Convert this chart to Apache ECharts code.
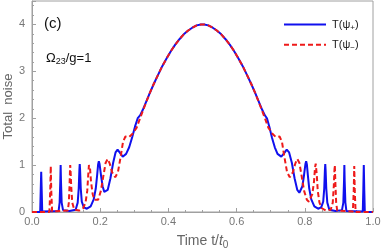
<!DOCTYPE html>
<html>
<head>
<meta charset="utf-8">
<script src="https://cdn.jsdelivr.net/npm/echarts@6/dist/echarts.min.js"></script>
<style>html,body{margin:0;padding:0;background:#fff}#c{width:382px;height:250px}</style>
</head>
<body>
<div id="c"></div>
<script>
const seriesNames = ['T(ψ+)', 'T(ψ−)'];
const xTicks = [0, 0.2, 0.4, 0.6, 0.8, 1.0];
const yTicks = [0, 1, 2, 3, 4];

const bluePlus = [
  [0,0],[0.024,0],[0.0255,0.45],[0.027,0.86],[0.0285,0.45],[0.030,0.01],
  [0.078,0.02],[0.081,0.2],[0.083,0.65],[0.084,1.0],[0.085,0.65],[0.087,0.2],[0.091,0.04],
  [0.11,0.02],[0.128,0.05],[0.134,0.2],[0.137,0.5],[0.139,0.9],[0.140,1.02],[0.141,0.9],[0.143,0.5],[0.146,0.22],[0.152,0.1],[0.161,0.07],
  [0.172,0.12],[0.181,0.27],[0.187,0.5],[0.191,0.78],[0.194,1.02],[0.196,1.08],[0.198,1.03],[0.202,0.8],[0.207,0.55],[0.212,0.43],[0.216,0.41],
  [0.222,0.47],[0.230,0.72],[0.238,1.05],[0.245,1.27],[0.251,1.33],[0.258,1.26],[0.266,1.18],[0.276,1.24],[0.285,1.38],[0.294,1.6],
  [0.302,1.82],[0.310,2.0],[0.317,2.06],[0.325,2.18],
  [0.345,2.53],[0.357,2.73],[0.370,2.93],[0.382,3.11],[0.395,3.28],[0.408,3.44],[0.420,3.57],[0.433,3.69],[0.445,3.79],
  [0.458,3.87],[0.470,3.93],[0.483,3.98],[0.495,4.0],[0.505,4.0],[0.517,3.98],[0.530,3.93],[0.542,3.87],[0.555,3.79],
  [0.567,3.69],[0.580,3.57],[0.592,3.44],[0.605,3.28],[0.618,3.11],[0.630,2.93],[0.643,2.73],[0.655,2.53],
  [0.675,2.18],[0.683,2.06],[0.689,2.0],[0.696,1.82],[0.704,1.58],[0.712,1.38],[0.720,1.24],[0.731,1.18],[0.739,1.25],
  [0.747,1.33],[0.754,1.27],[0.762,1.05],[0.770,0.72],[0.778,0.47],[0.784,0.41],[0.788,0.43],[0.793,0.55],[0.798,0.8],
  [0.802,1.03],[0.804,1.08],[0.806,1.02],[0.809,0.78],[0.813,0.5],[0.819,0.27],[0.828,0.12],[0.839,0.07],
  [0.848,0.1],[0.854,0.22],[0.857,0.5],[0.859,0.9],[0.860,1.02],[0.861,0.9],[0.863,0.5],[0.866,0.2],[0.872,0.05],
  [0.89,0.02],[0.909,0.04],[0.913,0.2],[0.915,0.65],[0.916,1.0],[0.917,0.65],[0.919,0.2],[0.922,0.02],
  [0.970,0.01],[0.9715,0.45],[0.973,1.0],[0.9745,0.45],[0.976,0],[1,0]
];

const redMinus = [
  [0,0],[0.051,0],[0.0535,0.45],[0.055,0.98],[0.0565,0.45],[0.059,0.01],
  [0.105,0.03],[0.108,0.2],[0.110,0.55],[0.1115,0.9],[0.112,1.0],[0.113,0.9],[0.115,0.55],[0.118,0.2],[0.124,0.05],[0.138,0.03],
  [0.150,0.08],[0.157,0.2],[0.162,0.45],[0.165,0.8],[0.167,1.0],[0.168,1.03],[0.170,0.95],[0.173,0.65],[0.178,0.38],[0.183,0.26],
  [0.188,0.22],[0.194,0.26],[0.202,0.45],[0.210,0.8],[0.216,1.05],[0.222,1.13],[0.228,1.03],[0.235,0.85],[0.244,0.74],
  [0.252,0.85],[0.260,1.18],[0.267,1.5],[0.274,1.61],[0.285,1.6],[0.295,1.67],[0.307,1.8],[0.318,2.02],[0.330,2.25],
  [0.345,2.53],[0.357,2.73],[0.370,2.93],[0.382,3.11],[0.395,3.28],[0.408,3.44],[0.420,3.57],[0.433,3.69],[0.445,3.79],
  [0.458,3.87],[0.470,3.93],[0.483,3.98],[0.495,4.0],[0.505,4.0],[0.517,3.98],[0.530,3.93],[0.542,3.87],[0.555,3.79],
  [0.567,3.69],[0.580,3.57],[0.592,3.44],[0.605,3.28],[0.618,3.11],[0.630,2.93],[0.643,2.73],[0.655,2.53],
  [0.670,2.25],[0.682,2.02],[0.693,1.8],[0.705,1.67],[0.715,1.6],[0.726,1.61],[0.733,1.5],[0.740,1.18],[0.748,0.85],
  [0.756,0.74],[0.765,0.85],[0.772,1.03],[0.778,1.13],[0.784,1.05],[0.790,0.8],[0.798,0.45],[0.806,0.26],[0.812,0.22],
  [0.817,0.26],[0.822,0.38],[0.827,0.65],[0.830,0.95],[0.832,1.03],[0.833,1.0],[0.835,0.8],[0.838,0.45],[0.843,0.2],
  [0.850,0.08],[0.862,0.03],[0.876,0.05],[0.882,0.2],[0.885,0.55],[0.887,0.9],[0.888,1.0],[0.8885,0.9],[0.890,0.55],
  [0.892,0.2],[0.895,0.03],[0.941,0.01],[0.9435,0.45],[0.945,0.98],[0.9465,0.45],[0.949,0],[1,0]
];

const FONT = 'Liberation Sans';
const chart = echarts.init(document.getElementById('c'), null, {renderer: 'canvas'});
chart.setOption({
  animation: false,
  grid: {left: 32, right: 9, top: 1, bottom: 38, show: true, borderColor: '#a0a0a0', borderWidth: 1,
    containLabel: false, outerBoundsMode: 'none'},
  legend: {
    orient: 'vertical', left: 278, top: 14, itemWidth: 42, itemHeight: 14, itemGap: 7,
    data: seriesNames,
    itemStyle: {opacity: 0},
    formatter: function (n) {
      return n === seriesNames[0] ? '{a|T(ψ}{s|+}{a|)}' : '{a|T(ψ}{s|−}{a|)}';
    },
    textStyle: {
      fontFamily: FONT, color: '#222', padding: [0,0,0,1],
      rich: {a: {fontSize: 11, fontFamily: FONT, color: '#222'}, s: {fontSize: 8, fontFamily: FONT, color: '#222', padding: [7,0,0,0]}}
    }
  },
  xAxis: {
    type: 'value', min: 0, max: 1, interval: 0.2,
    name: '{a|Time t/}{i|t}{s|0}', nameLocation: 'middle', nameGap: 20, nameMoveOverlap: false,
    nameTextStyle: {
      rich: {
        a: {fontSize: 14, fontFamily: FONT, color: '#666'},
        i: {fontSize: 14, fontFamily: FONT, fontStyle: 'italic', color: '#666'},
        s: {fontSize: 10, fontFamily: FONT, color: '#666', padding: [8,0,0,0]}
      }
    },
    axisLine: {lineStyle: {color: '#a0a0a0', width: 1}},
    axisTick: {inside: true, length: 4, lineStyle: {color: '#a0a0a0'}},
    minorTick: {show: true, splitNumber: 4, length: 2, lineStyle: {color: '#a0a0a0'}},
    splitLine: {show: false},
    axisLabel: {fontFamily: FONT, fontSize: 11, color: '#777', margin: 4,
      formatter: function (v) { return v.toFixed(1); }}
  },
  yAxis: {
    type: 'value', min: 0, max: 4.5, interval: 1,
    name: 'Total  noise', nameLocation: 'middle', nameGap: 17, nameMoveOverlap: false,
    nameTextStyle: {fontSize: 13, fontFamily: FONT, color: '#666'},
    axisLine: {show: true, lineStyle: {color: '#a0a0a0', width: 1}},
    axisTick: {inside: true, length: 4, lineStyle: {color: '#a0a0a0'}},
    minorTick: {show: true, splitNumber: 5, length: 2, lineStyle: {color: '#a0a0a0'}},
    splitLine: {show: false},
    axisLabel: {fontFamily: FONT, fontSize: 11, color: '#777', margin: 7, showMaxLabel: false,
      formatter: function (v) { return yTicks.indexOf(v) >= 0 ? String(v) : ''; }}
  },
  graphic: [
    {type: 'text', left: 44, top: 16, style: {text: '(c)', fontSize: 15, fontFamily: FONT, fill: '#111'}},
    {type: 'text', left: 46, top: 52, style: {
      text: '{a|Ω}{s|23}{a|/g=1}', fontFamily: FONT,
      rich: {a: {fontSize: 13, fontFamily: FONT, fill: '#111'}, s: {fontSize: 9, fontFamily: FONT, fill: '#111', padding: [6,0,0,0]}}
    }}
  ],
  series: [
    {name: seriesNames[0], type: 'line', data: bluePlus, symbol: 'none', showSymbol: false,
      lineStyle: {color: '#1010ee', width: 2}, itemStyle: {color: '#1010ee'}},
    {name: seriesNames[1], type: 'line', data: redMinus, symbol: 'none', showSymbol: false,
      lineStyle: {color: '#ee1a1a', width: 2, type: [5, 3]}, itemStyle: {color: '#ee1a1a'}}
  ]
});
</script>
</body>
</html>
